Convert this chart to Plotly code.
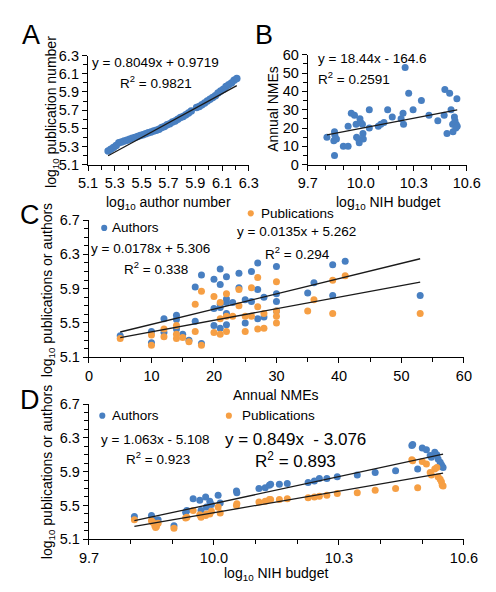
import plotly.graph_objects as go

W, H = 496, 592
def px(x): return x / W
def py(y): return 1 - y / H

BLUE = "rgb(72,127,193)"
ORANGE = "rgb(246,159,68)"
FONT = "Liberation Sans, Arial, sans-serif"

# ---------------- Panel A: log10 authors vs log10 publications
a_authors = [5.25, 5.27, 5.29, 5.31, 5.33, 5.35, 5.37, 5.39, 5.41, 5.43, 5.45, 5.47, 5.49,
             5.51, 5.53, 5.55, 5.57, 5.59, 5.61, 5.63, 5.65, 5.67, 5.69, 5.71, 5.73, 5.75,
             5.77, 5.79, 5.81, 5.83, 5.85, 5.87, 5.91, 5.93, 5.95, 5.97, 5.99, 6.01, 6.03,
             6.05, 6.07, 6.09, 6.11, 6.13, 6.15, 6.17, 6.19, 6.21]
a_pubs = [5.25, 5.27, 5.29, 5.31, 5.34, 5.35, 5.36, 5.37, 5.38, 5.39, 5.40, 5.41, 5.42,
          5.43, 5.44, 5.45, 5.46, 5.47, 5.48, 5.49, 5.51, 5.52, 5.54, 5.55, 5.57, 5.58,
          5.60, 5.62, 5.63, 5.65, 5.67, 5.69, 5.73, 5.74, 5.76, 5.78, 5.80, 5.82, 5.84,
          5.86, 5.89, 5.91, 5.93, 5.96, 5.98, 6.00, 6.03, 6.05]
a_fit = (0.8049, 0.9719)

# ---------------- Panel B: log10 NIH budget vs annual NMEs
b_budget = [9.808, 9.851, 9.853, 9.847, 9.862, 9.851, 9.901, 9.928, 9.928, 9.946, 9.964,
            9.973, 9.976, 9.987, 9.991, 9.995, 10.000, 10.009, 10.012, 10.014, 10.048,
            10.048, 10.099, 10.113, 10.131, 10.152, 10.178, 10.228, 10.239, 10.242, 10.251,
            10.271, 10.296, 10.343, 10.386, 10.436, 10.476, 10.472, 10.488, 10.503, 10.511,
            10.520, 10.522, 10.530, 10.533, 10.540, 10.544, 10.546, 10.538]
b_nmes = [15, 18, 16, 13, 14, 5, 10, 10, 21, 28, 27, 22, 15, 14, 12, 25, 23, 22, 17, 14,
          30, 20, 21, 22, 23, 30, 26, 25, 28, 22, 53, 39, 30, 35, 27, 24, 41, 27, 17, 39,
          30, 22, 18, 26, 24, 22, 36, 21, 20]
b_fit = (18.44, -164.6)

# ---------------- Panel C: annual NMEs vs log10 authors / publications
c_auth_nmes = [5, 10, 10, 12, 12, 14, 14, 14, 15, 16, 17, 17, 18, 18, 20, 20, 20, 21, 21, 21,
               21, 21, 22, 22, 22, 22, 22, 23, 24, 24, 25, 25, 26, 26, 27, 27, 27, 28, 28,
               30, 30, 30, 30, 35, 36, 39, 39, 41, 53]
c_auth_vals = [5.35, 5.40, 5.27, 5.55, 5.39, 5.59, 5.54, 5.43, 5.37, 5.30, 5.92, 5.52, 6.06,
               5.26, 6.01, 5.67, 5.47, 6.13, 5.95, 5.72, 5.68, 5.44, 6.04, 5.78, 5.74, 5.61,
               5.48, 5.74, 6.08, 5.91, 5.77, 5.50, 6.10, 5.75, 6.20, 5.89, 5.55, 5.80, 5.57,
               6.16, 5.84, 5.75, 5.64, 5.85, 5.97, 6.18, 5.82, 6.22, 5.82]
c_pub_nmes = [5, 10, 10, 12, 12, 14, 14, 14, 15, 16, 17, 17, 18, 18, 20, 20, 21, 21, 21, 22,
              22, 22, 23, 24, 24, 25, 25, 26, 26, 27, 27, 27, 28, 28, 30, 30, 30, 30, 35, 36,
              39, 39, 41, 53]
c_pub_vals = [5.32, 5.36, 5.24, 5.43, 5.34, 5.47, 5.37, 5.32, 5.33, 5.28, 5.72, 5.40, 5.87,
              5.24, 5.81, 5.39, 5.74, 5.55, 5.37, 5.84, 5.58, 5.40, 5.58, 5.89, 5.70, 5.58,
              5.40, 5.91, 5.58, 6.03, 5.69, 5.43, 5.61, 5.44, 5.98, 5.64, 5.58, 5.50, 5.64,
              5.77, 6.00, 5.61, 6.05, 5.61]
c_auth_fit = (0.0178, 5.306)
c_pub_fit = (0.0135, 5.262)

# ---------------- Panel D: log10 NIH budget vs log10 authors / publications
d_budget = [9.809, 9.850, 9.853, 9.858, 9.862, 9.860, 9.866, 9.904, 9.932, 9.935, 9.950,
            9.966, 9.969, 9.980, 9.982, 9.990, 9.994, 10.010, 10.015, 10.054, 10.055, 10.108,
            10.123, 10.133, 10.136, 10.157, 10.176, 10.226, 10.241, 10.253, 10.271, 10.296,
            10.344, 10.387, 10.436, 10.475, 10.477, 10.489, 10.500, 10.510, 10.519, 10.522,
            10.530, 10.535, 10.538, 10.543, 10.546, 10.548, 10.550]
d_authors = [5.37, 5.38, 5.34, 5.31, 5.32, 5.29, 5.33, 5.26, 5.42, 5.44, 5.58, 5.56, 5.44,
             5.60, 5.48, 5.55, 5.51, 5.62, 5.53, 5.67, 5.65, 5.70, 5.71, 5.74, 5.75, 5.75,
             5.76, 5.77, 5.79, 5.82, 5.82, 5.84, 5.86, 5.89, 5.91, 6.21, 6.22, 5.93, 6.18,
             6.16, 6.09, 6.07, 6.13, 6.10, 6.05, 6.01, 5.98, 5.96, 5.95]
d_pubs = [5.33, 5.32, 5.30, 5.26, 5.25, 5.24, 5.29, 5.23, 5.35, 5.36, 5.44, 5.39, 5.36,
          5.38, 5.40, 5.40, 5.43, 5.48, 5.41, 5.50, 5.52, 5.54, 5.55, 5.57, 5.57, 5.57,
          5.58, 5.59, 5.60, 5.61, 5.62, 5.64, 5.65, 5.68, 5.70, 6.04, 6.03, 5.71, 6.02,
          5.99, 5.89, 5.86, 5.93, 5.95, 5.84, 5.81, 5.78, 5.74, 5.73]
d_auth_fit = (1.063, -5.108)
d_pub_fit = (0.849, -3.076)

fig = go.Figure()

def dots(x, y, color, xa, ya, size=7):
    fig.add_trace(go.Scatter(x=x, y=y, mode="markers", xaxis=xa, yaxis=ya,
                             marker=dict(color=color, size=size, line=dict(width=0)),
                             showlegend=False, hoverinfo="skip"))

def fitline(xs, fit, xa, ya):
    x0, x1 = min(xs), max(xs)
    fig.add_trace(go.Scatter(x=[x0, x1], y=[fit[0] * x0 + fit[1], fit[0] * x1 + fit[1]],
                             mode="lines", xaxis=xa, yaxis=ya,
                             line=dict(color="#1a1a1a", width=1.3),
                             showlegend=False, hoverinfo="skip"))

# A
dots(a_authors, a_pubs, BLUE, "x", "y", 7.5)
fitline(a_authors, a_fit, "x", "y")
# B
dots(b_budget, b_nmes, BLUE, "x2", "y2")
fitline(b_budget, b_fit, "x2", "y2")
# C
dots(c_auth_nmes, c_auth_vals, BLUE, "x3", "y3")
dots(c_pub_nmes, c_pub_vals, ORANGE, "x3", "y3")
fitline(c_auth_nmes, c_auth_fit, "x3", "y3")
fitline(c_pub_nmes, c_pub_fit, "x3", "y3")
# D
dots(d_budget, d_authors, BLUE, "x4", "y4")
dots(d_budget, d_pubs, ORANGE, "x4", "y4")
fitline(d_budget, d_auth_fit, "x4", "y4")
fitline(d_budget, d_pub_fit, "x4", "y4")


def frange(a, b, step):
    out = []
    n = int(round((b - a) / step))
    for i in range(n + 1):
        out.append(round(a + i * step, 4))
    return out

def axis(domain, rng, majors, minors, fmt, anchor):
    return dict(domain=domain, range=rng, anchor=anchor,
                showgrid=False, zeroline=False, showline=True,
                linecolor="black", linewidth=1.3,
                ticks="outside", ticklen=5, tickwidth=1.3, tickcolor="black",
                tickmode="array", tickvals=majors, ticktext=[fmt.format(v) for v in majors],
                tickfont=dict(family=FONT, size=14.5, color="black"),
                minor=dict(tickmode="array", tickvals=minors, ticks="outside",
                           ticklen=4, tickwidth=1.1, tickcolor="black", showgrid=False),
                fixedrange=True)

layout = dict(
    width=W, height=H, margin=dict(l=0, r=0, t=0, b=0),
    paper_bgcolor="white", plot_bgcolor="white",
    font=dict(family=FONT, color="black"),
    xaxis=axis([px(82), px(251)], [5.1, 6.3], frange(5.1, 6.3, 0.2), frange(5.1, 6.3, 0.1), "{:.1f}", "y"),
    yaxis=axis([py(161), py(49)], [5.1, 6.3], frange(5.1, 6.3, 0.2), frange(5.1, 6.3, 0.1), "{:.1f}", "x"),
    xaxis2=axis([px(313), px(480)], [9.7, 10.6], frange(9.7, 10.6, 0.3), frange(9.7, 10.6, 0.1), "{:.1f}", "y2"),
    yaxis2=axis([py(161), py(48)], [0, 60], frange(0, 60, 10), frange(0, 60, 5), "{:.0f}", "x2"),
    xaxis3=axis([px(83), px(477)], [0, 60], frange(0, 60, 10), frange(0, 60, 5), "{:.0f}", "y3"),
    yaxis3=axis([py(359), py(218)], [5.1, 6.7], frange(5.1, 6.7, 0.4), frange(5.1, 6.7, 0.1), "{:.1f}", "x3"),
    xaxis4=axis([px(83), px(477)], [9.7, 10.6], frange(9.7, 10.6, 0.3), frange(9.7, 10.6, 0.1), "{:.1f}", "y4"),
    yaxis4=axis([py(546), py(407)], [5.1, 6.7], frange(5.1, 6.7, 0.4), frange(5.1, 6.7, 0.1), "{:.1f}", "x4"),
)
fig.update_layout(**layout)

ann = []
def text(x, y, s, size=14, xanchor="center", angle=0):
    ann.append(dict(x=px(x), y=py(y), xref="paper", yref="paper", text=s, showarrow=False,
                    xanchor=xanchor, yanchor="middle", textangle=angle,
                    font=dict(family=FONT, size=size, color="black")))

# panel letters
text(22, 28, "A", 27)
text(267, 28, "B", 27)
text(21, 213, "C", 27)
text(21, 403, "D", 27)

# axis titles
text(44, 107, "log<sub>10</sub> publication number", 14, angle=-90)
text(167, 200, "log<sub>10</sub> author number", 14)
text(277, 104, "Annual NMEs", 14, angle=-90)
text(397, 200, "log<sub>10</sub> NIH budget", 14)
text(40, 290, "log<sub>10</sub> publications or authors", 14, angle=-90)
text(280, 398, "Annual NMEs", 14)
text(40, 477, "log<sub>10</sub> publications or authors", 14, angle=-90)
text(280, 582, "log<sub>10</sub> NIH budget", 14)

# equations
EQ = 13.5
text(153, 56, "y = 0.8049x + 0.9719", EQ)
text(153, 76, "R<sup>2</sup> = 0.9821", EQ)
text(322, 52, "y = 18.44x - 164.6", EQ, xanchor="left")
text(322, 72, "R<sup>2</sup> = 0.2591", EQ, xanchor="left")

text(105, 226, "Authors", EQ, xanchor="left")
text(148, 247, "y = 0.0178x + 5.306", EQ)
text(153, 267, "R<sup>2</sup> = 0.338", EQ)
text(262, 211, "Publications", EQ, xanchor="left")
text(301, 230, "y = 0.0135x + 5.262", EQ)
text(302, 252, "R<sup>2</sup> = 0.294", EQ)

text(105, 419, "Authors", EQ, xanchor="left")
text(242, 419, "Publications", EQ, xanchor="left")
text(152, 443, "y = 1.063x - 5.108", EQ)
text(155, 463, "R<sup>2</sup> = 0.923", EQ)
text(300, 443, "y = 0.849x&nbsp; - 3.076", 17)
text(300, 465, "R<sup>2</sup> = 0.893", 17)

fig.update_layout(annotations=ann)

shapes = []
def dot(cx, cy, color, r=3.2):
    shapes.append(dict(type="circle", xref="paper", yref="paper",
                       x0=px(cx - r), x1=px(cx + r), y0=py(cy + r), y1=py(cy - r),
                       fillcolor=color, line=dict(width=0)))
dot(99, 226, BLUE)
dot(253, 211, ORANGE)
dot(97, 419, BLUE)
dot(230, 419, ORANGE)
fig.update_layout(shapes=shapes)

fig.write_html("out.html")
